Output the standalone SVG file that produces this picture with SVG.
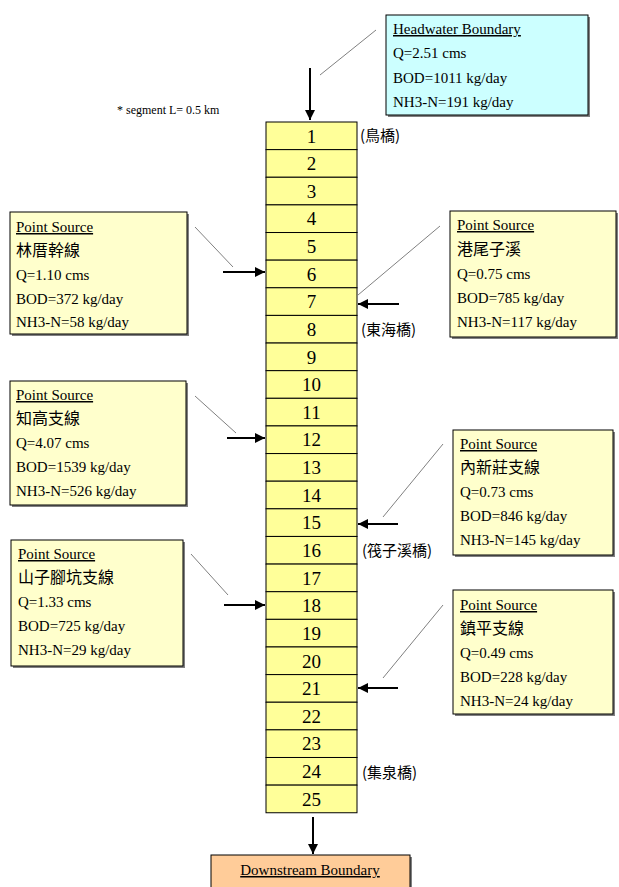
<svg xmlns="http://www.w3.org/2000/svg" width="619" height="887" viewBox="0 0 619 887">
<defs>
<marker id="ah" viewBox="0 0 10 10" refX="10" refY="5" markerWidth="5" markerHeight="5" markerUnits="strokeWidth" orient="auto">
<path d="M0,0 L10,5 L0,10 Z" fill="#000"/>
</marker>
</defs>
<style>
.en{font-family:"Liberation Serif","Times New Roman",serif;font-size:15px;fill:#000}
.u{text-decoration:underline}
.cjk{font-family:"Noto Sans CJK TC","Noto Sans CJK SC",sans-serif;font-size:16px;fill:#000}
.br{font-family:"Noto Sans CJK TC","Noto Sans CJK SC",sans-serif;font-size:15px;fill:#000}
.num{font-family:"Liberation Serif","Times New Roman",serif;font-size:19px;fill:#000;text-anchor:middle}
.seg{fill:#FFFF99;stroke:#000;stroke-width:1}
.box{stroke:#000;stroke-width:1}
.sh{fill:#808080}
.ps{fill:#FFFFCC}
.lead{stroke:#808080;stroke-width:1;fill:none}
.arr{stroke:#000;stroke-width:2;fill:none;marker-end:url(#ah)}
</style>
<rect width="619" height="887" fill="#fff"/>

<text class="en" x="117" y="114" style="font-size:12px">* segment L= 0.5 km</text>

<g id="headwater">
<rect class="sh" x="388" y="17" width="202" height="100"/>
<rect class="box" x="386" y="15" width="202" height="100" fill="#CCFFFF"/>
<text class="en u" x="393" y="34">Headwater Boundary</text>
<text class="en" x="393" y="58">Q=2.51 cms</text>
<text class="en" x="393" y="83">BOD=1011 kg/day</text>
<text class="en" x="393" y="107">NH3-N=191 kg/day</text>
</g>

<g id="river">
<rect class="seg" x="266" y="122.00" width="91" height="27.63"/><text class="num" x="311.5" y="142.5">1</text>
<rect class="seg" x="266" y="149.63" width="91" height="27.63"/><text class="num" x="311.5" y="170.1">2</text>
<rect class="seg" x="266" y="177.26" width="91" height="27.63"/><text class="num" x="311.5" y="197.8">3</text>
<rect class="seg" x="266" y="204.89" width="91" height="27.63"/><text class="num" x="311.5" y="225.4">4</text>
<rect class="seg" x="266" y="232.52" width="91" height="27.63"/><text class="num" x="311.5" y="253.0">5</text>
<rect class="seg" x="266" y="260.15" width="91" height="27.63"/><text class="num" x="311.5" y="280.7">6</text>
<rect class="seg" x="266" y="287.78" width="91" height="27.63"/><text class="num" x="311.5" y="308.3">7</text>
<rect class="seg" x="266" y="315.41" width="91" height="27.63"/><text class="num" x="311.5" y="335.9">8</text>
<rect class="seg" x="266" y="343.04" width="91" height="27.63"/><text class="num" x="311.5" y="363.5">9</text>
<rect class="seg" x="266" y="370.67" width="91" height="27.63"/><text class="num" x="311.5" y="391.2">10</text>
<rect class="seg" x="266" y="398.30" width="91" height="27.63"/><text class="num" x="311.5" y="418.8">11</text>
<rect class="seg" x="266" y="425.93" width="91" height="27.63"/><text class="num" x="311.5" y="446.4">12</text>
<rect class="seg" x="266" y="453.56" width="91" height="27.63"/><text class="num" x="311.5" y="474.1">13</text>
<rect class="seg" x="266" y="481.19" width="91" height="27.63"/><text class="num" x="311.5" y="501.7">14</text>
<rect class="seg" x="266" y="508.82" width="91" height="27.63"/><text class="num" x="311.5" y="529.3">15</text>
<rect class="seg" x="266" y="536.45" width="91" height="27.63"/><text class="num" x="311.5" y="557.0">16</text>
<rect class="seg" x="266" y="564.08" width="91" height="27.63"/><text class="num" x="311.5" y="584.6">17</text>
<rect class="seg" x="266" y="591.71" width="91" height="27.63"/><text class="num" x="311.5" y="612.2">18</text>
<rect class="seg" x="266" y="619.34" width="91" height="27.63"/><text class="num" x="311.5" y="639.8">19</text>
<rect class="seg" x="266" y="646.97" width="91" height="27.63"/><text class="num" x="311.5" y="667.5">20</text>
<rect class="seg" x="266" y="674.60" width="91" height="27.63"/><text class="num" x="311.5" y="695.1">21</text>
<rect class="seg" x="266" y="702.23" width="91" height="27.63"/><text class="num" x="311.5" y="722.7">22</text>
<rect class="seg" x="266" y="729.86" width="91" height="27.63"/><text class="num" x="311.5" y="750.4">23</text>
<rect class="seg" x="266" y="757.49" width="91" height="27.63"/><text class="num" x="311.5" y="778.0">24</text>
<rect class="seg" x="266" y="785.12" width="91" height="27.63"/><text class="num" x="311.5" y="805.6">25</text>
</g>

<g id="bridges">
<text class="br" x="360" y="141">(鳥橋)</text>
<text class="br" x="361" y="335">(東海橋)</text>
<text class="br" x="362" y="556">(筏子溪橋)</text>
<text class="br" x="362" y="778">(集泉橋)</text>
</g>

<g id="ps1">
<rect class="sh" x="12" y="214" width="177" height="122"/>
<rect class="box ps" x="10" y="212" width="177" height="122"/>
<text class="en u" x="16" y="232">Point Source</text>
<text class="cjk" x="16" y="256">林厝幹線</text>
<text class="en" x="16" y="280">Q=1.10 cms</text>
<text class="en" x="16" y="304">BOD=372 kg/day</text>
<text class="en" x="16" y="327">NH3-N=58 kg/day</text>
</g>

<g id="ps2">
<rect class="sh" x="452" y="213" width="166" height="126"/>
<rect class="box ps" x="450" y="211" width="166" height="126"/>
<text class="en u" x="457" y="230">Point Source</text>
<text class="cjk" x="457" y="255">港尾子溪</text>
<text class="en" x="457" y="279">Q=0.75 cms</text>
<text class="en" x="457" y="303">BOD=785 kg/day</text>
<text class="en" x="457" y="327">NH3-N=117 kg/day</text>
</g>

<g id="ps3">
<rect class="sh" x="12" y="383" width="176" height="124"/>
<rect class="box ps" x="10" y="381" width="176" height="124"/>
<text class="en u" x="16" y="400">Point Source</text>
<text class="cjk" x="16" y="424">知高支線</text>
<text class="en" x="16" y="448">Q=4.07 cms</text>
<text class="en" x="16" y="472">BOD=1539 kg/day</text>
<text class="en" x="16" y="496">NH3-N=526 kg/day</text>
</g>

<g id="ps4">
<rect class="sh" x="455" y="432" width="160" height="125"/>
<rect class="box ps" x="453" y="430" width="160" height="125"/>
<text class="en u" x="460" y="449">Point Source</text>
<text class="cjk" x="460" y="473">內新莊支線</text>
<text class="en" x="460" y="497">Q=0.73 cms</text>
<text class="en" x="460" y="521">BOD=846 kg/day</text>
<text class="en" x="460" y="545">NH3-N=145 kg/day</text>
</g>

<g id="ps5">
<rect class="sh" x="13" y="542" width="172" height="126"/>
<rect class="box ps" x="11" y="540" width="172" height="126"/>
<text class="en u" x="18" y="559">Point Source</text>
<text class="cjk" x="18" y="583">山子腳坑支線</text>
<text class="en" x="18" y="607">Q=1.33 cms</text>
<text class="en" x="18" y="631">BOD=725 kg/day</text>
<text class="en" x="18" y="655">NH3-N=29 kg/day</text>
</g>

<g id="ps6">
<rect class="sh" x="455" y="592" width="160" height="124"/>
<rect class="box ps" x="453" y="590" width="160" height="124"/>
<text class="en u" x="460" y="610">Point Source</text>
<text class="cjk" x="460" y="634">鎮平支線</text>
<text class="en" x="460" y="658">Q=0.49 cms</text>
<text class="en" x="460" y="682">BOD=228 kg/day</text>
<text class="en" x="460" y="706">NH3-N=24 kg/day</text>
</g>

<g id="downstream">
<rect class="sh" x="213" y="857" width="199" height="40"/>
<rect class="box" x="211" y="855" width="199" height="40" fill="#FFCC99"/>
<text class="en u" x="310" y="875" text-anchor="middle">Downstream Boundary</text>
</g>

<g id="connectors">
<line class="lead" x1="376" y1="30" x2="320" y2="75"/>
<line class="arr" x1="310" y1="68" x2="310" y2="120"/>
<line class="lead" x1="195" y1="227" x2="233" y2="267"/>
<line class="arr" x1="223" y1="272" x2="265" y2="272"/>
<line class="lead" x1="440" y1="226" x2="358" y2="295"/>
<line class="arr" x1="399" y1="304" x2="358" y2="304"/>
<line class="lead" x1="195" y1="396" x2="236" y2="433"/>
<line class="arr" x1="227" y1="438" x2="265" y2="438"/>
<line class="lead" x1="443" y1="444" x2="383" y2="517"/>
<line class="arr" x1="398" y1="524" x2="358" y2="524"/>
<line class="lead" x1="191" y1="554" x2="228" y2="595"/>
<line class="arr" x1="224" y1="605" x2="265" y2="605"/>
<line class="lead" x1="443" y1="605" x2="383" y2="678"/>
<line class="arr" x1="398" y1="688" x2="358" y2="688"/>
<line class="arr" x1="313" y1="817" x2="313" y2="854"/>
</g>
</svg>
